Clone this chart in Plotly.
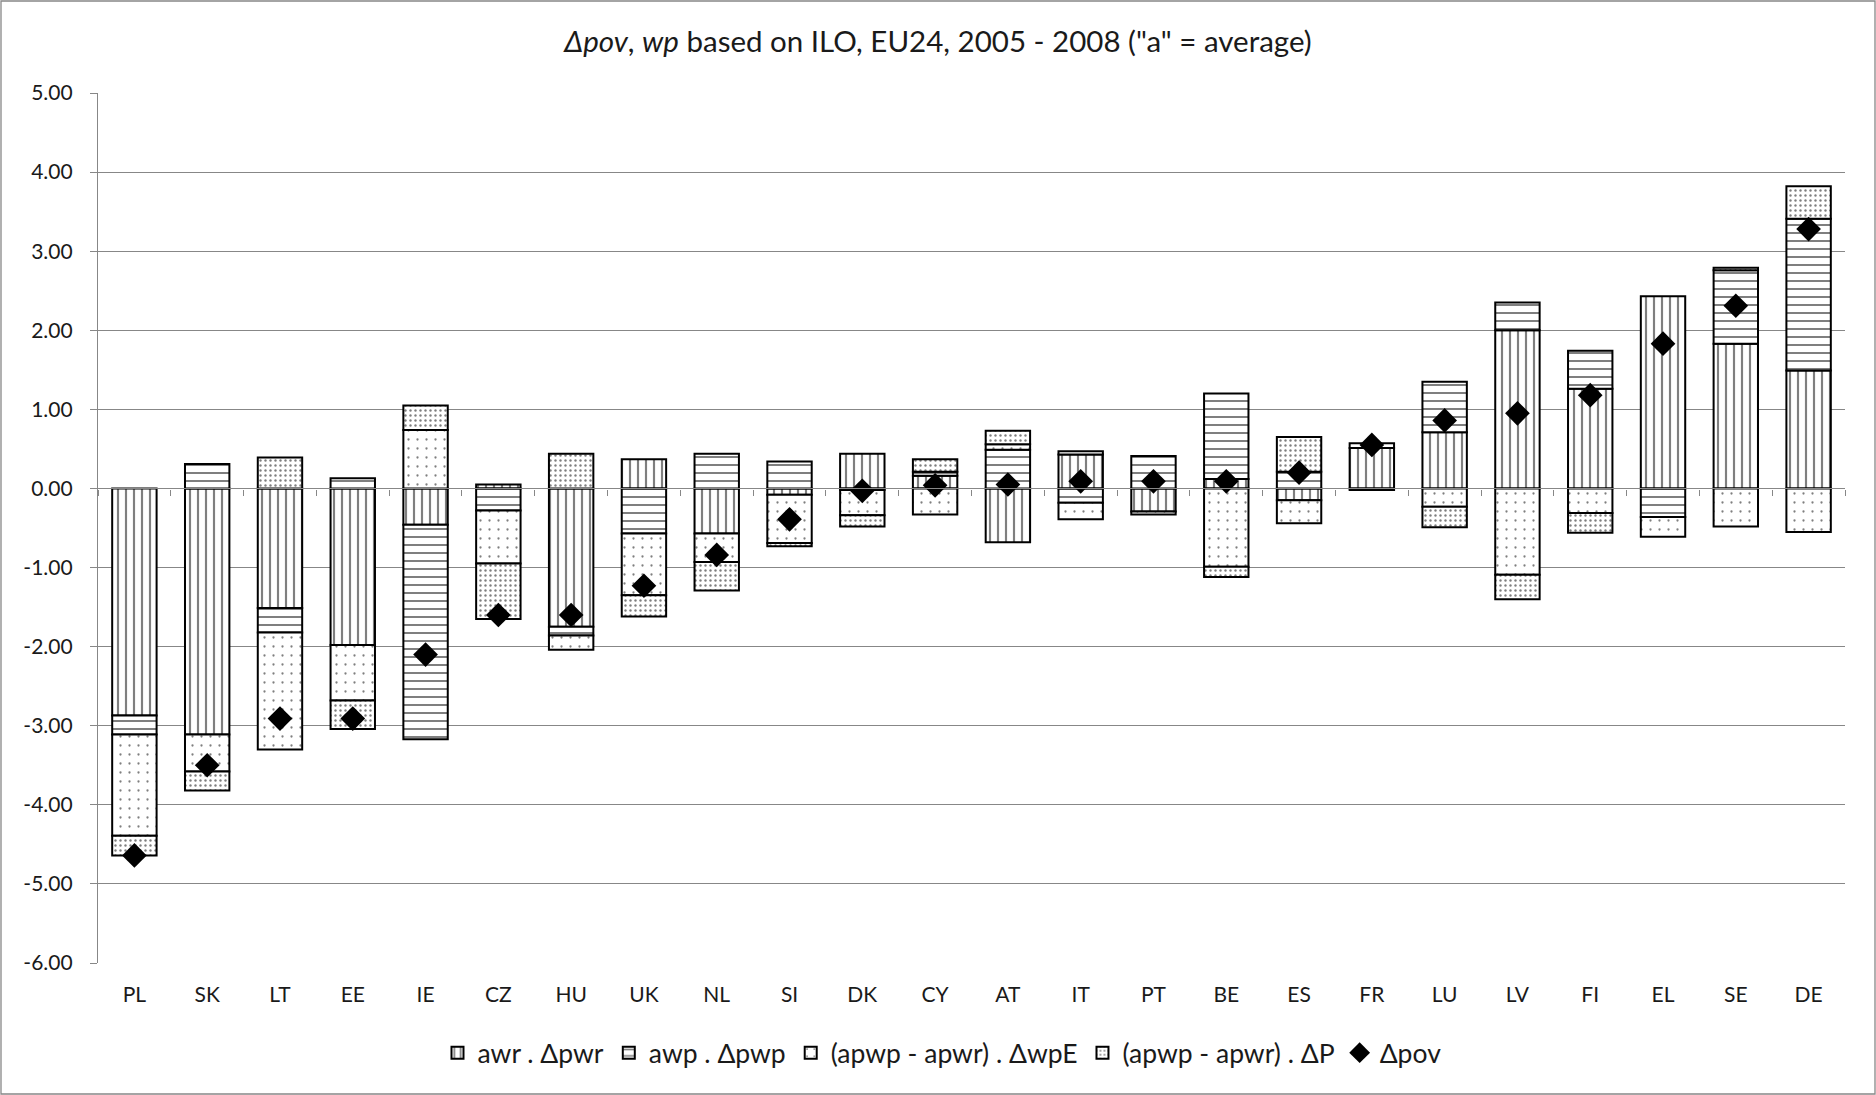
import plotly.graph_objects as go

categories = ["PL", "SK", "LT", "EE", "IE", "CZ", "HU", "UK", "NL", "SI", "DK", "CY",
              "AT", "IT", "PT", "BE", "ES", "FR", "LU", "LV", "FI", "EL", "SE", "DE"]

awr_dpwr = [-2.87, -3.11, -1.51, -1.98, -0.46, 0.05, -1.75, 0.37, -0.57, -0.08, 0.44, 0.16,
            -0.68, 0.43, -0.29, 0.12, -0.15, 0.51, 0.71, 2.00, 1.26, 2.43, 1.83, 1.49]
awp_dpwp = [-0.24, 0.31, -0.31, 0.13, -2.71, -0.28, -0.11, -0.57, 0.44, 0.34, -0.02, 0.05,
            0.49, -0.18, 0.41, 1.08, 0.21, 0.06, 0.64, 0.35, 0.48, -0.36, 0.93, 1.92]
gap_dwpE = [-1.28, -0.47, -1.48, -0.70, 0.74, -0.67, -0.18, -0.78, -0.36, -0.61, -0.32, -0.33,
            0.07, -0.21, -0.04, -0.99, -0.29, -0.02, -0.23, -1.09, -0.31, -0.25, -0.48, -0.55]
gap_dP = [-0.25, -0.24, 0.39, -0.36, 0.31, -0.70, 0.44, -0.27, -0.36, -0.04, -0.14, 0.16,
          0.17, 0.04, None, -0.13, 0.44, None, -0.26, -0.31, -0.25, None, 0.03, 0.41]
dpov = [-4.64, -3.50, -2.91, -2.91, -2.10, -1.60, -1.60, -1.23, -0.84, -0.39, -0.03, 0.04,
        0.05, 0.09, 0.09, 0.09, 0.20, 0.55, 0.86, 0.95, 1.18, 1.83, 2.31, 3.28]

y_ticks = [5, 4, 3, 2, 1, 0, -1, -2, -3, -4, -5, -6]
y_ticklabels = ["%.2f" % v for v in y_ticks]

FONT = "Lato, 'Open Sans', sans-serif"
GRID = "#878787"
TXT = "#1a1a1a"

W, H = 1876, 1095
ML, MR, MT, MB = 98, 31, 93, 132

def pat(shape, size, solidity):
    return dict(shape=shape, fgcolor="black", bgcolor="white", size=size, solidity=solidity)

series = [
    ("awr . Δpwr", awr_dpwr, pat("|", 8, 0.27)),
    ("awp . Δpwp", awp_dpwp, pat("-", 8, 0.25)),
    ("(apwp - apwr) . ΔwpE", gap_dwpE, pat(".", 9, 0.05)),
    ("(apwp - apwr) . ΔP", gap_dP, pat(".", 5, 0.18)),
]

fig = go.Figure()
for name, vals, p in series:
    fig.add_trace(go.Bar(
        x=categories, y=vals, name=name,
        marker=dict(color="white", line=dict(color="black", width=2), pattern=p),
    ))

fig.add_trace(go.Scatter(
    x=categories, y=dpov, name="Δpov", mode="markers",
    marker=dict(symbol="diamond", size=19, color="black"),
))

# helper axis drawn at y = 0 (Excel-style horizontal axis with boundary ticks)
fig.add_trace(go.Scatter(
    x=categories, y=[None] * len(categories), xaxis="x2", yaxis="y",
    showlegend=False, hoverinfo="skip", mode="markers",
))

xr = [-0.5, len(categories) - 0.5]
pw, ph = W - ML - MR, H - MT - MB

fig.update_layout(
    width=W, height=H,
    paper_bgcolor="white", plot_bgcolor="white",
    barmode="relative", bargap=0.39,
    margin=dict(l=ML, r=MR, t=MT, b=MB, autoexpand=False),
    font=dict(family=FONT, size=21, color=TXT),
    title=dict(
        text="<i>Δpov</i>, <i>wp</i> based on ILO, EU24, 2005 - 2008 (\"a\" = average)",
        x=0.5, xref="container", xanchor="center",
        y=1 - 42 / H, yref="container", yanchor="middle",
        font=dict(family=FONT, size=29.5, color=TXT),
    ),
    xaxis=dict(
        type="category", categoryorder="array", categoryarray=categories, range=xr,
        showgrid=False, showline=False, zeroline=False,
        ticks="outside", ticklen=13, tickcolor="rgba(0,0,0,0)",
        tickfont=dict(size=21),
    ),
    xaxis2=dict(
        type="category", categoryorder="array", categoryarray=categories, range=xr,
        overlaying="x", anchor="free", position=6 / 11, side="bottom",
        showgrid=False, showticklabels=False, showline=True, linecolor=GRID, linewidth=1.3,
        ticks="outside", tickson="boundaries", ticklen=6, tickcolor=GRID, tickwidth=1.3,
        zeroline=False,
    ),
    yaxis=dict(
        range=[-6, 5], tickvals=y_ticks, ticktext=y_ticklabels,
        showgrid=True, gridcolor=GRID, gridwidth=1.3,
        zeroline=False,
        showline=True, linecolor=GRID, linewidth=1.3,
        ticks="outside", ticklen=7, tickcolor=GRID, tickwidth=1.3,
        ticklabelstandoff=13,
        tickfont=dict(size=21),
    ),
    legend=dict(
        orientation="h", x=(942 - ML) / pw, xanchor="center",
        y=(H - MB - 1053) / ph, yanchor="middle",
        font=dict(size=26.5), itemwidth=30, traceorder="normal",
    ),
    shapes=[dict(
        type="rect", xref="paper", yref="paper",
        x0=(1 - ML) / pw, x1=(W - 1 - ML) / pw,
        y0=(H - MB - (H - 1)) / ph, y1=(H - MB - 1) / ph,
        line=dict(color=GRID, width=1.3), fillcolor="rgba(0,0,0,0)", layer="below",
    )],
)

fig.write_html("out.html", config={"displayModeBar": False},
               post_script="document.body.style.margin='0';")
